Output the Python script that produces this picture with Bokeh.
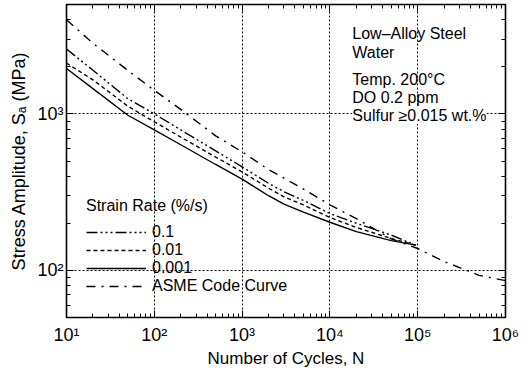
from bokeh.plotting import figure
from bokeh.models import (Range1d, FixedTicker, LogAxis, Legend, LegendItem, Label)
from bokeh.embed import file_html
from bokeh.resources import INLINE

# ---- data ----
cycles_env = [10, 20, 50, 100, 200, 500, 1000, 2000, 3000, 5000, 10000, 20000, 50000, 95000]
rate_0_1 = [2600, 1900, 1250, 1000, 790, 580, 459, 360, 318, 280, 231, 200, 168, 145]
rate_0_01 = [2110, 1650, 1120, 890, 710, 530, 426, 335, 295, 262, 218, 188, 160, 145]
rate_0_001 = [1950, 1450, 980, 790, 635, 475, 383, 300, 265, 236, 203, 177, 155, 145]
cycles_asme = [10, 20, 50, 100, 200, 500, 1000, 2000, 5000, 10000, 20000, 50000,
               100000, 200000, 500000, 1000000]
asme_curve = [3999, 2827, 1896, 1413, 1069, 724, 572, 441, 331, 262, 214, 159,
              138, 114, 93, 86]

legend_labels = ["0.1", "0.01", "0.001", "ASME Code Curve"]
legend_title = "Strain Rate (%/s)"
x_major = [10, 100, 1000, 10000, 100000, 1000000]
x_tick_labels = ["10¹", "10²", "10³", "10⁴", "10⁵", "10⁶"]
y_major = [100, 1000]
y_tick_labels = ["10²", "10³"]
note_lines = ["Low–Alloy Steel", "Water", "Temp. 200°C", "DO 0.2 ppm", "Sulfur ≥0.015 wt.%"]
note_y = [3264, 2467, 1659, 1267, 975]
note_x = 18000

FONT = "Liberation Sans"

x_minor = [m * d for d in [10, 100, 1000, 10000, 100000] for m in range(2, 10)]
y_minor = [50, 60, 70, 80, 90] + [m * 100 for m in range(2, 10)] + [m * 1000 for m in range(2, 6)]

p = figure(width=531, height=376, x_axis_type="log", y_axis_type="log",
           x_range=Range1d(10, 1e6), y_range=Range1d(50, 5000),
           output_backend="svg", toolbar_location=None,
           min_border_left=66, min_border_right=26, min_border_top=4, min_border_bottom=59)
p.background_fill_color = "white"
p.border_fill_color = "white"
p.outline_line_color = "black"
p.outline_line_width = 1.6

xt = FixedTicker(ticks=x_major, minor_ticks=x_minor)
yt = FixedTicker(ticks=y_major, minor_ticks=y_minor)

for ax, tk, labs in [(p.xaxis[0], xt, x_tick_labels), (p.yaxis[0], yt, y_tick_labels)]:
    ax.ticker = tk
    ax.major_label_overrides = {v: l for v, l in zip(tk.ticks, labs)}
    ax.major_tick_in = 7
    ax.major_tick_out = 0
    ax.minor_tick_in = 4
    ax.minor_tick_out = 0
    ax.axis_line_color = "black"
    ax.major_tick_line_color = "black"
    ax.minor_tick_line_color = "black"
    ax.major_label_text_font = FONT
    ax.major_label_text_font_size = "18px"
    ax.major_label_text_color = "black"
    ax.axis_label_text_font = FONT
    ax.axis_label_text_font_style = "normal"
    ax.axis_label_text_color = "black"

p.xaxis[0].axis_label = "Number of Cycles, N"
p.xaxis[0].axis_label_text_font_size = "17px"
p.xaxis[0].major_label_standoff = 7
p.xaxis[0].axis_label_standoff = 1
p.yaxis[0].axis_label = "Stress Amplitude, Sₐ (MPa)"
p.yaxis[0].axis_label_text_font_size = "18px"
p.yaxis[0].major_label_standoff = 3
p.yaxis[0].axis_label_standoff = 5

for loc, tk in [("above", FixedTicker(ticks=x_major, minor_ticks=x_minor)),
                ("right", FixedTicker(ticks=y_major, minor_ticks=y_minor))]:
    ax = LogAxis(ticker=tk)
    ax.major_tick_in = 7
    ax.major_tick_out = 0
    ax.minor_tick_in = 4
    ax.minor_tick_out = 0
    ax.major_label_text_font_size = "1px"
    ax.major_label_text_alpha = 0
    ax.major_label_standoff = 0
    ax.axis_line_color = "black"
    ax.major_tick_line_color = "black"
    ax.minor_tick_line_color = "black"
    p.add_layout(ax, loc)

for g in (p.xgrid[0], p.ygrid[0]):
    g.grid_line_color = "black"
    g.grid_line_dash = "2 2"
    g.grid_line_width = 1

r1 = p.line(cycles_env, rate_0_1, line_color="black", line_width=1.4,
            line_dash="11 3 2 3 2 3 2 3")
r2 = p.line(cycles_env, rate_0_01, line_color="black", line_width=1.4, line_dash="4 3")
r3 = p.line(cycles_env, rate_0_001, line_color="black", line_width=1.4)
r4 = p.line(cycles_asme, asme_curve, line_color="black", line_width=1.4, line_dash="9 6 2 6")

legend = Legend(items=[LegendItem(label=l, renderers=[r]) for l, r in
                       zip(legend_labels, [r1, r2, r3, r4])],
                location=(20, 22), title=legend_title)
legend.title_text_font = FONT
legend.title_text_font_size = "16px"
legend.title_text_font_style = "normal"
legend.title_text_color = "black"
legend.title_standoff = 8
legend.label_text_font = FONT
legend.label_text_font_size = "16px"
legend.label_text_color = "black"
legend.glyph_width = 60
legend.glyph_height = 18
legend.label_height = 18
legend.label_standoff = 6
legend.spacing = 0
legend.padding = 0
legend.margin = 0
legend.border_line_color = None
legend.background_fill_alpha = 0
p.add_layout(legend, "center")

for txt, yv in zip(note_lines, note_y):
    lab = Label(x=note_x, y=yv, text=txt, text_font=FONT, text_font_size="16px",
                text_baseline="middle", text_align="left", text_color="black")
    if txt.startswith("Sulfur"):
        lab.background_fill_color = "white"
    p.add_layout(lab)

open("out.html", "w").write(file_html(p, INLINE))
